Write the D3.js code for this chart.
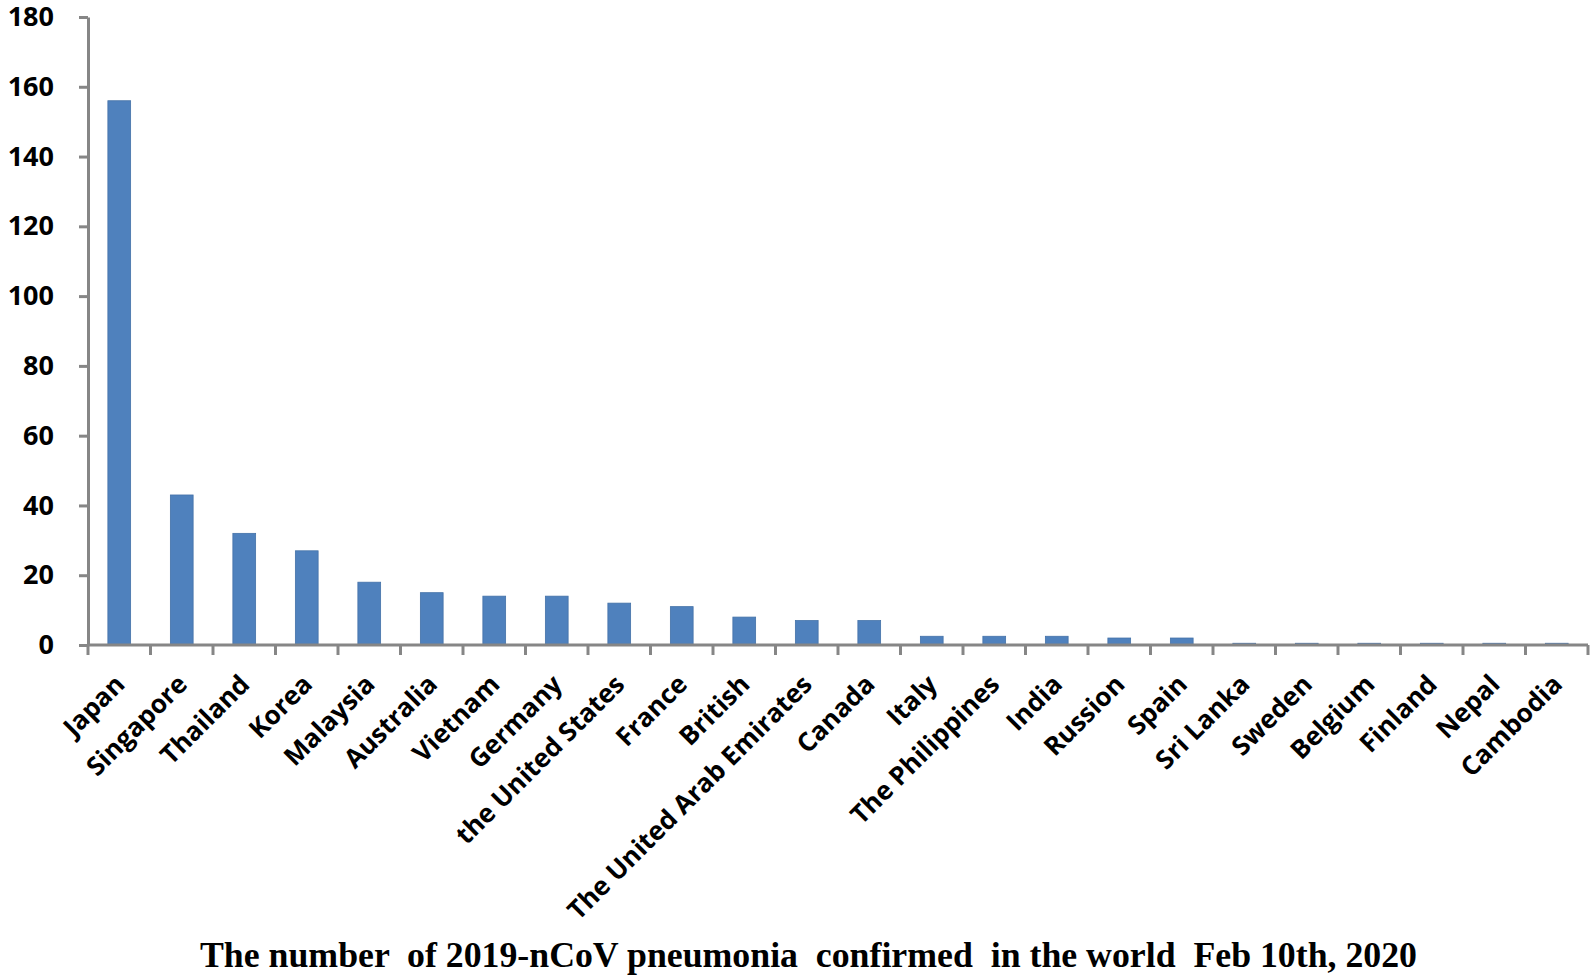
<!DOCTYPE html>
<html>
<head>
<meta charset="utf-8">
<script src="https://cdn.jsdelivr.net/npm/d3@7"></script>
<style>
  body { margin: 0; background: #fff; }
  svg { display: block; }
</style>
</head>
<body>
<div id="chart"></div>
<script>
// data
const countries = ["Japan", "Singapore", "Thailand", "Korea", "Malaysia", "Australia", "Vietnam",
    "Germany", "the United States", "France", "British", "The United Arab Emirates", "Canada",
    "Italy", "The Philippines", "India", "Russion", "Spain", "Sri Lanka", "Sweden", "Belgium",
    "Finland", "Nepal", "Cambodia"];
const cases = [156, 43, 32, 27, 18, 15, 14, 14, 12, 11, 8, 7, 7,
    2.5, 2.5, 2.5, 2, 2, 0.5, 0.5, 0.5, 0.5, 0.5, 0.5];
const yTicks = [0, 20, 40, 60, 80, 100, 120, 140, 160, 180];
const caption = "The number  of 2019-nCoV pneumonia  confirmed  in the world  Feb 10th, 2020";

const data = countries.map((c, i) => ({country: c, value: cases[i]}));

const width = 1595, height = 980;
const axisColor = "#868686";
const labelFont = "'Open Sans', 'DejaVu Sans', sans-serif";

const svg = d3.select("#chart")
    .append("svg")
    .attr("width", width)
    .attr("height", height);

// scales
const x = d3.scaleBand()
    .domain(countries)
    .range([88, 1588])
    .paddingInner(0.636)
    .paddingOuter(0.318);

const y = d3.scaleLinear()
    .domain([0, 180])
    .range([645, 17]);

// bars
svg.selectAll(".bar")
    .data(data)
    .enter()
    .append("rect")
    .attr("class", "bar")
    .attr("x", d => x(d.country))
    .attr("y", d => y(d.value))
    .attr("width", x.bandwidth())
    .attr("height", d => y(0) - y(d.value))
    .attr("fill", "#4F81BD")
    .attr("stroke", "#4472a8")
    .attr("stroke-width", 0.8);

// y axis
const yAxis = svg.append("g")
    .attr("transform", `translate(${x.range()[0]},0)`)
    .call(d3.axisLeft(y).tickValues(yTicks).tickSize(9).tickSizeOuter(0).tickPadding(25));
yAxis.select(".domain").attr("stroke", axisColor).attr("stroke-width", 3);
yAxis.selectAll(".tick line").attr("stroke", axisColor).attr("stroke-width", 3);
yAxis.selectAll(".tick text")
    .attr("fill", "#000")
    .style("font-family", labelFont)
    .style("font-weight", "bold")
    .style("font-size", "27px");

// x axis: line with ticks on the category boundaries
const step = x.step();
const x0 = x.range()[0];
const boundaries = d3.range(countries.length + 1).map(i => x0 + i * step);

svg.append("line")
    .attr("x1", x0)
    .attr("x2", x.range()[1])
    .attr("y1", y(0))
    .attr("y2", y(0))
    .attr("stroke", axisColor)
    .attr("stroke-width", 3);

svg.selectAll(".xtick")
    .data(boundaries)
    .enter()
    .append("line")
    .attr("class", "xtick")
    .attr("x1", d => d)
    .attr("x2", d => d)
    .attr("y1", y(0))
    .attr("y2", y(0) + 10)
    .attr("stroke", axisColor)
    .attr("stroke-width", 3);

// rotated category labels
svg.selectAll(".xlabel")
    .data(countries)
    .enter()
    .append("text")
    .attr("class", "xlabel")
    .attr("transform", d => `translate(${x(d) + x.bandwidth() / 2 + 7},${y(0) + 41}) rotate(-45)`)
    .attr("text-anchor", "end")
    .style("font-family", labelFont)
    .style("font-weight", "bold")
    .style("font-size", "26px")
    .attr("fill", "#000")
    .text(d => d);

// caption under the chart
svg.append("text")
    .attr("x", 200)
    .attr("y", 967)
    .attr("textLength", 1217)
    .attr("lengthAdjust", "spacingAndGlyphs")
    .style("white-space", "pre")
    .style("font-family", "'Liberation Serif', 'Times New Roman', serif")
    .style("font-weight", "bold")
    .style("font-size", "35px")
    .attr("fill", "#000")
    .text(caption);
</script>
</body>
</html>
